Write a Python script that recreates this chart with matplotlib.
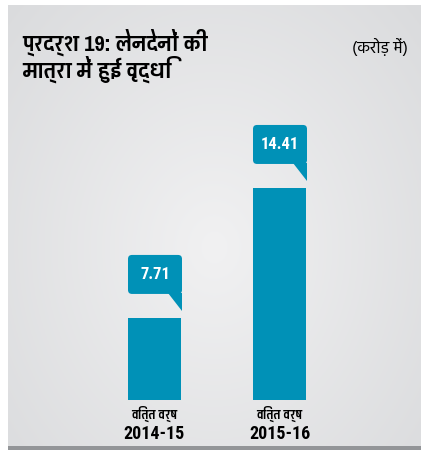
import matplotlib
matplotlib.use("Agg")
import matplotlib.pyplot as plt
import matplotlib.patches as mpatches
import matplotlib.transforms as mtransforms
import numpy as np

# ---- data ----
cat_top = ["वित्त वर्ष", "वित्त वर्ष"]
cat_year = ["2014-15", "2015-16"]
values = [7.71, 14.41]
value_labels = ["7.71", "14.41"]
title_text = "प्रदर्श 19: लेनदेनों की\nमात्रा में हुई वृद्धि"
unit_text = "(करोड़ में)"

W, H = 421, 450
BAR_COLOR = "#0091b7"
FAM_B = ["Roboto Condensed", "Pragati Narrow", "DejaVu Sans"]
FAM_D = ["Pragati Narrow", "DejaVu Sans"]
FAM_R = ["Hind", "Pragati Narrow", "DejaVu Sans"]

fig = plt.figure(figsize=(W / 100, H / 100), dpi=100)
fig.patch.set_facecolor("white")

# background panel with soft radial gradient
bg = fig.add_axes([8 / W, 4 / H, (W - 8) / W, (446 - 5) / H])
bg.set_axis_off()
yy, xx = np.mgrid[0:1:200j, 0:1:200j]
r = np.sqrt(((xx - 0.5) / 0.7) ** 2 + ((yy - 0.55) / 0.8) ** 2)
r = np.clip(r, 0, 1)
c_in = np.array([0xf1, 0xf1, 0xf2]) / 255
c_out = np.array([0xda, 0xdb, 0xdd]) / 255
img = c_in[None, None, :] * (1 - r[..., None]) + c_out[None, None, :] * r[..., None]
bg.imshow(img, extent=[0, 1, 0, 1], aspect="auto")
bg.set_xlim(0, 1)
bg.set_ylim(0, 1)
fig.add_artist(mpatches.Rectangle((8 / W, 0), (W - 8) / W, 4 / H,
                                  transform=fig.transFigure, color="#939598", lw=0))

# main axes
ax = fig.add_axes([29.5 / W, 50 / H, 375 / W, 340 / H])
ax.set_axis_off()
ax.patch.set_alpha(0)
x = np.arange(len(values))
bar_w = 53 / 125
ax.bar(x, values, width=bar_w, color=BAR_COLOR, bottom=0)
ax.set_xlim(-1, 2)
ax.set_ylim(3.48, 3.48 + 340 / 19.4)

# callouts
for xi, v, lab in zip(x, values, value_labels):
    trans = mtransforms.Affine2D() + mtransforms.ScaledTranslation(xi - bar_w / 2, v, ax.transData)
    box = mpatches.FancyBboxPatch((0, 24), 54, 39,
                                  boxstyle="round,pad=0,rounding_size=4",
                                  transform=trans, color=BAR_COLOR, lw=0)
    fig.add_artist(box)
    tail = mpatches.Polygon([(40, 25), (54, 25), (54, 7)], closed=True,
                            transform=trans, color=BAR_COLOR, lw=0)
    fig.add_artist(tail)
    fig.text(27, 43.5, lab, transform=trans, ha="center", va="center",
             color="white", fontsize=12, fontweight="bold", family=FAM_B)

# category labels
for xi, t1, t2 in zip(x, cat_top, cat_year):
    ax.annotate(t1, (xi, 3.48), xytext=(0, -14), textcoords="offset pixels",
                ha="center", va="center", fontsize=10, fontweight="bold",
                family=FAM_D, annotation_clip=False)
    ax.annotate(t2, (xi, 3.48), xytext=(0, -34), textcoords="offset pixels",
                ha="center", va="center", fontsize=13, fontweight="bold",
                family=FAM_B, annotation_clip=False)

# title & unit
fig.text(22 / W, 1 - 29 / H, title_text, ha="left", va="top", fontsize=17.5,
         fontweight="bold", family=FAM_D, linespacing=0.95)
fig.text(408 / W, 1 - 47 / H, unit_text, ha="right", va="center", fontsize=12,
         family=FAM_R)

fig.savefig("out.png", dpi=100, facecolor="white")
